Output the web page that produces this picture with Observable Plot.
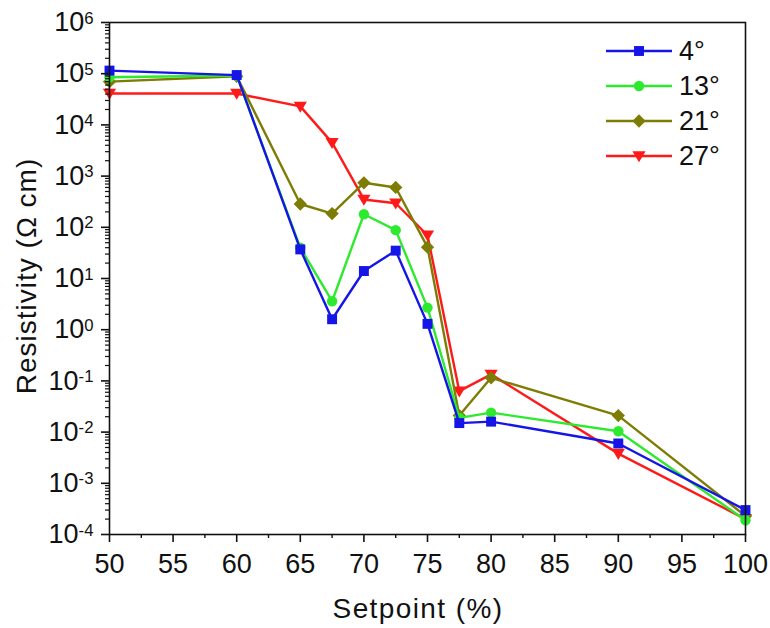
<!DOCTYPE html>
<html>
<head>
<meta charset="utf-8">
<script src="https://cdn.jsdelivr.net/npm/d3@7"></script>
<script src="https://cdn.jsdelivr.net/npm/@observablehq/plot@0.6"></script>
<style>
  html, body { margin: 0; padding: 0; background: #ffffff; }
  #chart { width: 770px; height: 628px; }
</style>
</head>
<body>
<div id="chart"></div>
<script>
// ---- data ----
const setpoint = [50, 60, 65, 67.5, 70, 72.5, 75, 77.5, 80, 90, 100];
const res4  = [1.15e5, 9.4e4, 37, 1.6, 14, 35, 1.3, 0.015, 0.016, 0.006, 3.0e-4];
const res13 = [8.5e4, 9.2e4, 40, 3.6, 180, 88, 2.7, 0.019, 0.024, 0.0104, 1.9e-4];
const res21 = [7.0e4, 8.9e4, 285, 185, 740, 600, 41, 0.021, 0.115, 0.021, 2.3e-4];
const res27 = [4.1e4, 4.1e4, 2.3e4, 4.5e3, 350, 295, 70, 0.063, 0.134, 0.0038, 2.0e-4];
const seriesNames = ["4°", "13°", "21°", "27°"];
const seriesValues = [res4, res13, res21, res27];
const seriesColors = ["#1515e8", "#2eea2e", "#7d7d05", "#ff1a1a"];
const xMajorTicks = [50, 55, 60, 65, 70, 75, 80, 85, 90, 95, 100];
const xMinorTicks = [52.5, 57.5, 62.5, 67.5, 72.5, 77.5, 82.5, 87.5, 92.5, 97.5];
const yExponents = [-4, -3, -2, -1, 0, 1, 2, 3, 4, 5, 6];
const xLabel = "Setpoint (%)";
const yLabel = "Resistivity (Ω cm)";

// ---- symbols ----
const triangleDown = {
  draw(context, size) {
    const r = Math.sqrt(size / Math.PI);
    context.moveTo(-r, -0.72 * r);
    context.lineTo(r, -0.72 * r);
    context.lineTo(0, 0.95 * r);
    context.closePath();
  }
};
const seriesSymbols = ["square", "circle", "diamond2", triangleDown];
const seriesR = [5.6, 5.2, 6, 6.6];

const yMajor = yExponents.map(e => Math.pow(10, e));
const yMinor = [];
for (const e of yExponents.slice(0, -1)) for (let m = 2; m <= 9; m++) yMinor.push(m * Math.pow(10, e));

const rows = [];
seriesNames.forEach((name, i) => {
  setpoint.forEach((x, j) => rows.push({series: name, x, y: seriesValues[i][j]}));
});

// draw order: 27° first, 4° on top
const order = [3, 2, 1, 0];
const seriesMarks = [];
for (const i of order) {
  const d = rows.filter(r => r.series === seriesNames[i]);
  seriesMarks.push(Plot.line(d, {x: "x", y: "y", stroke: seriesColors[i], strokeWidth: 2.4}));
  seriesMarks.push(Plot.dot(d, {x: "x", y: "y", fill: seriesColors[i], stroke: "none", symbol: seriesSymbols[i], r: seriesR[i]}));
}

const W = 770, H = 628;
const mL = 109, mR = 25, mT = 22, mB = 94;

const svg = Plot.plot({
  width: W, height: H,
  marginLeft: mL, marginRight: mR, marginTop: mT, marginBottom: mB,
  style: {fontFamily: "'Liberation Sans', Arial, sans-serif", fontSize: "27px", background: "#ffffff", color: "#111"},
  x: {domain: [50, 100]},
  y: {type: "log", domain: [1e-4, 1e6]},
  marks: [
    ...seriesMarks,
    Plot.frame({stroke: "#111", strokeWidth: 1.6}),
    Plot.axisX(xMajorTicks, {anchor: "bottom", tickSize: 8, tickPadding: 11, strokeWidth: 1.6, tickFormat: d => String(d), label: null}),
    Plot.axisX(xMinorTicks, {anchor: "bottom", tickSize: 4, strokeWidth: 1.4, tickFormat: () => "", label: null}),
    Plot.axisY(yMajor, {anchor: "left", tickSize: 8, tickPadding: 8, strokeWidth: 1.6, tickFormat: d => "10|" + Math.round(Math.log10(d)), label: null}),
    Plot.axisY(yMinor, {anchor: "left", tickSize: 4, strokeWidth: 1.2, tickFormat: () => "", label: null})
  ]
});

// superscript exponents on the y tick labels
svg.querySelectorAll("text").forEach(t => {
  const m = /^10\|(-?\d+)$/.exec(t.textContent);
  if (!m) return;
  t.textContent = "";
  const base = document.createElementNS("http://www.w3.org/2000/svg", "tspan");
  base.textContent = "10";
  const sup = document.createElementNS("http://www.w3.org/2000/svg", "tspan");
  sup.textContent = m[1];
  sup.setAttribute("dy", "-0.45em");
  sup.setAttribute("font-size", "0.62em");
  t.appendChild(base);
  t.appendChild(sup);
});

const s = d3.select(svg);
// axis titles
s.append("text")
  .attr("x", 418).attr("y", 618)
  .attr("text-anchor", "middle")
  .attr("font-size", 28).attr("letter-spacing", 1.4)
  .attr("fill", "#111")
  .text(xLabel);
s.append("text")
  .attr("transform", "translate(36,276) rotate(-90)")
  .attr("text-anchor", "middle")
  .attr("font-size", 28).attr("letter-spacing", 1)
  .attr("fill", "#111")
  .text(yLabel);

// legend
const lg = s.append("g").attr("transform", `translate(${W - mR - 139},${mT + 29})`);
seriesNames.forEach((name, i) => {
  const g = lg.append("g").attr("transform", `translate(0,${i * 35})`);
  g.append("line").attr("x1", 0).attr("x2", 66).attr("y1", 0).attr("y2", 0)
    .attr("stroke", seriesColors[i]).attr("stroke-width", 2.4);
  const sym = typeof seriesSymbols[i] === "string"
    ? ({square: d3.symbolSquare, circle: d3.symbolCircle, diamond2: d3.symbolDiamond2})[seriesSymbols[i]]
    : seriesSymbols[i];
  g.append("path")
    .attr("transform", "translate(33,0)")
    .attr("d", d3.symbol(sym, Math.PI * seriesR[i] * seriesR[i])())
    .attr("fill", seriesColors[i]);
  g.append("text").attr("x", 73).attr("y", 0).attr("dy", "0.35em")
    .attr("text-anchor", "start")
    .attr("font-size", 27).attr("fill", "#111").text(name);
});

document.getElementById("chart").appendChild(svg);
</script>
</body>
</html>
